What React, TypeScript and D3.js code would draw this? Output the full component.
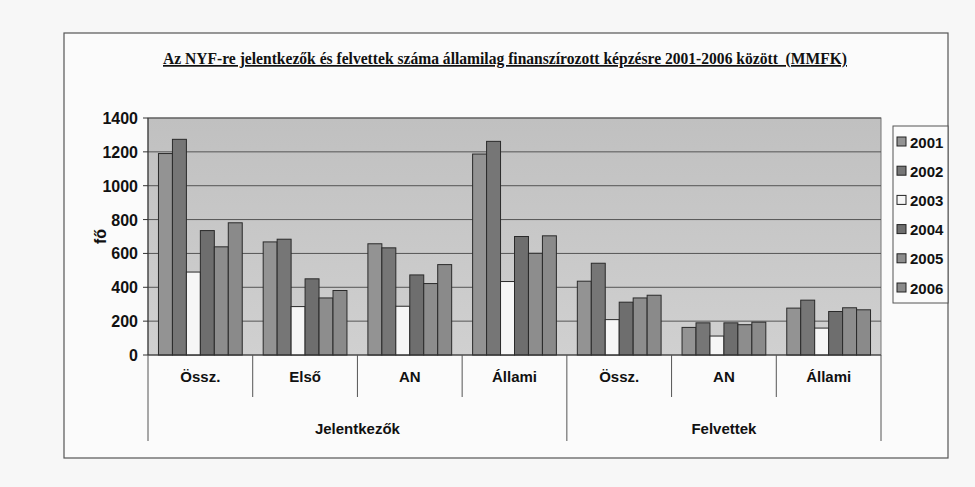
import React from 'react';
import * as d3 from 'd3';

const years = ['2001', '2002', '2003', '2004', '2005', '2006'];
const categories = ['Össz.', 'Első', 'AN', 'Állami', 'Össz.', 'AN', 'Állami'];
const groups = [
  { name: 'Jelentkezők', from: 0, to: 4 },
  { name: 'Felvettek', from: 4, to: 7 },
];
// one array per year, in category order
const v2001 = [1190, 668, 657, 1187, 436, 163, 277];
const v2002 = [1274, 684, 633, 1262, 542, 190, 324];
const v2003 = [490, 286, 288, 434, 209, 112, 159];
const v2004 = [735, 450, 473, 700, 312, 190, 257];
const v2005 = [639, 337, 422, 601, 337, 179, 279];
const v2006 = [781, 381, 534, 704, 353, 194, 267];
const series = [v2001, v2002, v2003, v2004, v2005, v2006];
const yTicks = [0, 200, 400, 600, 800, 1000, 1200, 1400];
const colors = ['#939393', '#767676', '#f6f6f6', '#6e6e6e', '#8d8d8d', '#8a8a8a'];

const title = 'Az NYF-re jelentkezők és felvettek száma államilag finanszírozott képzésre 2001-2006 között  (MMFK)';

const plot = { left: 148, right: 881, top: 118, bottom: 355 };
const sans = '"Liberation Sans", Arial, sans-serif';

export default function App() {
  const x = d3.scaleBand<number>()
    .domain(categories.map((_, i) => i))
    .range([plot.left, plot.right])
    .padding(0);
  const xi = d3.scaleBand<string>()
    .domain(years)
    .range([0, x.bandwidth()])
    .paddingInner(0)
    .paddingOuter(0.75);
  const y = d3.scaleLinear().domain([0, 1400]).range([plot.bottom, plot.top]);

  const edge = (i: number) => (i < categories.length ? x(i)! : plot.right);

  return (
    <svg width={975} height={487} style={{ position: 'absolute', left: 0, top: 0, background: '#f7f7f7' }}>
      <defs>
        <linearGradient id="bg" x1="0" y1="0" x2="0" y2="1">
          <stop offset="0" stopColor="#c0c0c0" />
          <stop offset="1" stopColor="#d0d0d0" />
        </linearGradient>
      </defs>
      {/* outer frame */}
      <rect x={64} y={33} width={884} height={425} fill="#fbfbfb" stroke="#555" strokeWidth={1.2} />

      <text x={505} y={64} textAnchor="middle" fontFamily='"Liberation Serif", "Times New Roman", serif'
        fontWeight="bold" fontSize={17} textDecoration="underline" textLength={684} lengthAdjust="spacingAndGlyphs"
        fill="#111" style={{ whiteSpace: 'pre' }}>
        {title}
      </text>

      {/* plot area */}
      <rect x={plot.left} y={plot.top} width={plot.right - plot.left} height={plot.bottom - plot.top}
        fill="url(#bg)" stroke="#777" strokeWidth={1} />
      {yTicks.filter(t => t > 0).map(t => (
        <line key={t} x1={plot.left} x2={plot.right} y1={y(t)} y2={y(t)} stroke="#555" strokeWidth={1} />
      ))}

      {/* y axis */}
      <line x1={plot.left} x2={plot.left} y1={plot.top} y2={plot.bottom} stroke="#333" />
      {yTicks.map(t => (
        <g key={t}>
          <line x1={plot.left - 5} x2={plot.left} y1={y(t)} y2={y(t)} stroke="#333" />
          <text x={138} y={y(t) + 6} textAnchor="end" fontFamily={sans} fontWeight="bold" fontSize={16} fill="#111">
            {t}
          </text>
        </g>
      ))}
      <text transform={`translate(106,${(plot.top + plot.bottom) / 2}) rotate(-90)`} textAnchor="middle"
        fontFamily={sans} fontWeight="bold" fontSize={16} fill="#111">fő</text>

      {/* bars */}
      {series.map((vals, s) => (
        <g key={years[s]}>
          {vals.map((v, c) => (
            <rect key={c} x={x(c)! + xi(years[s])!} y={y(v)} width={xi.bandwidth()} height={y(0) - y(v)}
              fill={colors[s]} stroke="#2a2a2a" strokeWidth={1} />
          ))}
        </g>
      ))}

      {/* x axis with two levels */}
      <line x1={plot.left} x2={plot.right} y1={plot.bottom} y2={plot.bottom} stroke="#333" />
      {categories.map((_, i) => i).concat([categories.length]).map(i => {
        const isGroupEdge = groups.some(g => g.from === i) || i === categories.length;
        return (
          <line key={i} x1={edge(i)} x2={edge(i)} y1={plot.bottom} y2={isGroupEdge ? 441 : 397} stroke="#555" />
        );
      })}
      {categories.map((c, i) => (
        <text key={i} x={x(i)! + x.bandwidth() / 2} y={382} textAnchor="middle" fontFamily={sans}
          fontWeight="bold" fontSize={15} fill="#111">{c}</text>
      ))}
      {groups.map(g => (
        <text key={g.name} x={(edge(g.from) + edge(g.to)) / 2} y={434} textAnchor="middle" fontFamily={sans}
          fontWeight="bold" fontSize={15} fill="#111">{g.name}</text>
      ))}

      {/* legend */}
      <rect x={893} y={126} width={55} height={177} fill="#fbfbfb" stroke="#555" />
      {years.map((yr, s) => (
        <g key={yr} transform={`translate(897,${142 + s * 29.2})`}>
          <rect x={0} y={-5} width={9} height={9} fill={colors[s]} stroke="#222" />
          <text x={13} y={5.5} fontFamily={sans} fontWeight="bold" fontSize={15} fill="#111">{yr}</text>
        </g>
      ))}
    </svg>
  );
}
